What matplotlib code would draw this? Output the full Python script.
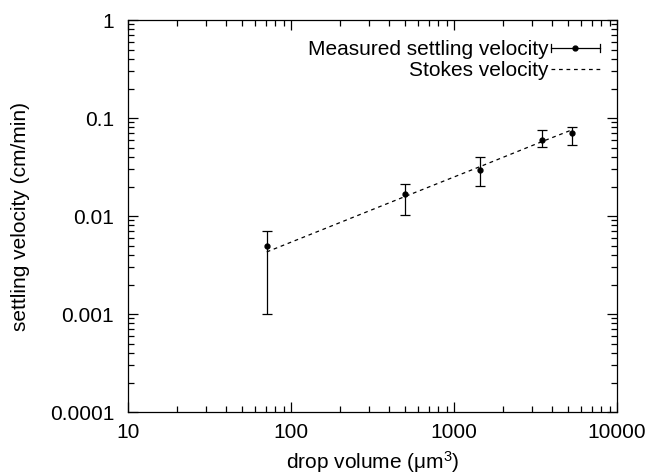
import numpy as np
import matplotlib
matplotlib.use("Agg")
import matplotlib.pyplot as plt
from matplotlib.legend_handler import HandlerBase
from matplotlib.lines import Line2D
from matplotlib.ticker import FixedLocator, FixedFormatter, LogLocator, NullFormatter

plt.rcParams['font.family'] = ['Liberation Sans', 'DejaVu Sans']
plt.rcParams['mathtext.fontset'] = 'custom'
plt.rcParams['mathtext.rm'] = 'Liberation Sans'
plt.rcParams['mathtext.it'] = 'Liberation Sans'

volume = [71, 500, 1450, 3480, 5270]
velocity = [0.005, 0.0166, 0.0295, 0.060, 0.070]
err_low = [0.001, 0.0102, 0.0202, 0.0506, 0.0534]
err_high = [0.007, 0.021, 0.040, 0.0755, 0.081]

# Stokes prediction at the same volumes
stokes = [0.0043, 0.0158, 0.032, 0.0576, 0.0755]

xticks = [10, 100, 1000, 10000]
xticklabels = ['10', '100', '1000', '10000']
yticks = [0.0001, 0.001, 0.01, 0.1, 1]
yticklabels = ['0.0001', '0.001', '0.01', '0.1', '1']

FS = 15


class GnuplotErrorHandler(HandlerBase):
    # horizontal sample with caps at both ends and a dot in the middle
    def create_artists(self, legend, orig_handle, xdescent, ydescent,
                       width, height, fontsize, trans):
        y = height / 2 - ydescent
        x0, x1 = -xdescent, width - xdescent
        cap = 0.18 * fontsize
        arts = [
            Line2D([x0, x1], [y, y], color='black', lw=0.9),
            Line2D([x0, x0], [y - cap, y + cap], color='black', lw=0.9),
            Line2D([x1, x1], [y - cap, y + cap], color='black', lw=0.9),
            Line2D([(x0 + x1) / 2], [y], marker='o', ms=3.5, color='black', lw=0),
        ]
        for a in arts:
            a.set_transform(trans)
        return arts


fig = plt.figure(figsize=(6.51, 4.74), dpi=100)
ax = fig.add_axes([0.1966, 0.1308, 0.7512, 0.827])

v = np.array(velocity)
yerr = [v - np.array(err_low), np.array(err_high) - v]
meas = ax.errorbar(volume, velocity, yerr=yerr, fmt='o', ms=3.5, color='black',
                   ecolor='black', elinewidth=0.9, capsize=3.5, capthick=0.9)
st, = ax.plot(volume, stokes, color='black', lw=0.9, dashes=(3, 3))

ax.set_xscale('log')
ax.set_yscale('log')
ax.set_xlim(10, 10000)
ax.set_ylim(0.0001, 1)

ax.xaxis.set_major_locator(FixedLocator(xticks))
ax.xaxis.set_major_formatter(FixedFormatter(xticklabels))
ax.yaxis.set_major_locator(FixedLocator(yticks))
ax.yaxis.set_major_formatter(FixedFormatter(yticklabels))
ax.xaxis.set_minor_locator(LogLocator(base=10, subs=np.arange(2, 10)))
ax.xaxis.set_minor_formatter(NullFormatter())
ax.yaxis.set_minor_locator(LogLocator(base=10, subs=np.arange(2, 10)))
ax.yaxis.set_minor_formatter(NullFormatter())

ax.tick_params(which='both', direction='in', top=True, right=True,
               labelsize=FS, width=0.9, colors='black')
ax.tick_params(which='major', length=7)
ax.tick_params(which='minor', length=4)
ax.tick_params(axis='x', which='major', pad=8)
ax.tick_params(axis='y', which='major', pad=10)
for s in ax.spines.values():
    s.set_linewidth(0.9)

ax.set_xlabel('drop volume (μm$^3$)', fontsize=FS, labelpad=5)
ax.set_ylabel('settling velocity (cm/min)', fontsize=FS, labelpad=14)

ax.legend([meas, st], ['Measured settling velocity', 'Stokes velocity'],
          handler_map={type(meas): GnuplotErrorHandler()},
          loc='upper right', bbox_to_anchor=(0.965, 0.948), frameon=False,
          markerfirst=False, fontsize=FS, handlelength=2.35,
          handletextpad=0.1, labelspacing=0.1, borderaxespad=0, borderpad=0)

fig.savefig('out.png', dpi=100)
